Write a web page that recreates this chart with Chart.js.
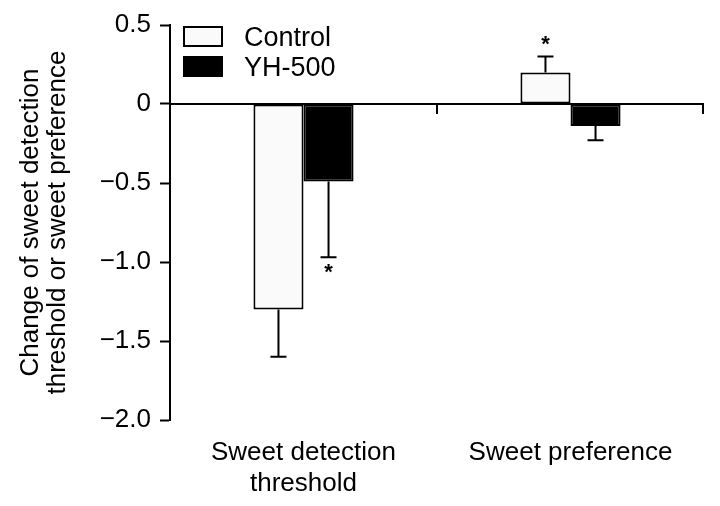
<!DOCTYPE html>
<html>
<head>
<meta charset="utf-8">
<script src="https://cdn.jsdelivr.net/npm/chart.js@4.4.1/dist/chart.umd.min.js"></script>
<style>
  html, body { margin: 0; padding: 0; background: #fff; }
  #wrap { width: 720px; height: 506px; }
</style>
</head>
<body>
<div id="wrap"><canvas id="chart" width="720" height="506"></canvas></div>
<script>
// data
const categories = [['Sweet detection', 'threshold'], 'Sweet preference'];
const controlValues = [-1.30, 0.20];
const controlErrors = [0.30, 0.10];
const yhValues = [-0.49, -0.14];
const yhErrors = [0.48, 0.09];
const controlSig = [false, true];
const yhSig = [true, false];
const yTicks = [0.5, 0, -0.5, -1.0, -1.5, -2.0];

const FONT = "'Liberation Sans', Arial, sans-serif";

function fmtTick(v) {
  if (v === 0) return '0';
  return (v < 0 ? '\u2212' : '') + Math.abs(v).toFixed(1);
}

/* zero line with category ticks */
const zeroLine = {
  id: 'zeroLine',
  afterDatasetsDraw(chart) {
    const { ctx, chartArea, scales: { x, y } } = chart;
    const y0 = y.getPixelForValue(0);
    ctx.save();
    ctx.strokeStyle = '#000';
    ctx.lineWidth = 2;
    ctx.beginPath();
    ctx.moveTo(chartArea.left, y0);
    ctx.lineTo(chartArea.right, y0);
    const mid = (x.getPixelForValue(0) + x.getPixelForValue(1)) / 2;
    [mid, chartArea.right - 1].forEach(px => {
      ctx.moveTo(px, y0);
      ctx.lineTo(px, y0 + 10);
    });
    ctx.stroke();
    ctx.restore();
  }
};

/* one-sided error bars + significance stars */
const errorBars = {
  id: 'errorBars',
  afterDatasetsDraw(chart) {
    const { ctx, scales: { y } } = chart;
    const errs = [controlErrors, yhErrors];
    const sigs = [controlSig, yhSig];
    ctx.save();
    ctx.strokeStyle = '#000';
    ctx.fillStyle = '#000';
    ctx.lineWidth = 2;
    chart.data.datasets.forEach((ds, di) => {
      const meta = chart.getDatasetMeta(di);
      meta.data.forEach((bar, i) => {
        const v = ds.data[i];
        const dir = v < 0 ? -1 : 1;
        const end = v + dir * errs[di][i];
        const yv = y.getPixelForValue(v);
        const ye = y.getPixelForValue(end);
        ctx.beginPath();
        ctx.moveTo(bar.x, yv);
        ctx.lineTo(bar.x, ye);
        ctx.moveTo(bar.x - 8, ye);
        ctx.lineTo(bar.x + 8, ye);
        ctx.stroke();
        if (sigs[di][i]) {
          ctx.font = 'bold 22px ' + FONT;
          ctx.textAlign = 'center';
          ctx.textBaseline = 'middle';
          const sy = dir > 0 ? ye - 12 : ye + 16;
          ctx.fillText('*', bar.x, sy);
        }
      });
    });
    ctx.restore();
  }
};

/* legend at top-left inside the plot */
const boxLegend = {
  id: 'boxLegend',
  afterDraw(chart) {
    const { ctx, chartArea } = chart;
    ctx.save();
    ctx.font = '27px ' + FONT;
    ctx.textBaseline = 'middle';
    ctx.textAlign = 'left';
    chart.data.datasets.forEach((ds, i) => {
      const bx = chartArea.left + 14;
      const by = chartArea.top + 2 + i * 30;
      ctx.fillStyle = ds.backgroundColor;
      ctx.fillRect(bx, by, 38, 19);
      ctx.strokeStyle = '#000';
      ctx.lineWidth = 2;
      ctx.strokeRect(bx, by, 38, 19);
      ctx.fillStyle = '#000';
      ctx.fillText(ds.label, bx + 60, by + 12);
    });
    ctx.restore();
  }
};

new Chart(document.getElementById('chart'), {
  type: 'bar',
  data: {
    labels: categories,
    datasets: [
      {
        label: 'Control',
        data: controlValues,
        backgroundColor: '#fafafa',
        borderColor: '#000',
        borderWidth: 2,
        borderSkipped: false
      },
      {
        label: 'YH-500',
        data: yhValues,
        backgroundColor: '#000',
        borderColor: '#000',
        borderWidth: 2,
        borderSkipped: false
      }
    ]
  },
  options: {
    responsive: false,
    animation: false,
    devicePixelRatio: 1,
    layout: { padding: { left: 0, right: 16, top: 25, bottom: 0 } },
    datasets: { bar: { categoryPercentage: 0.375, barPercentage: 1.0 } },
    plugins: { legend: { display: false }, tooltip: { enabled: false } },
    scales: {
      x: {
        grid: { display: false, drawTicks: false },
        border: { display: false },
        ticks: {
          color: '#000',
          font: { family: FONT, size: 26, lineHeight: 1.2 },
          padding: 17,
          maxRotation: 0
        },
        afterFit(scale) { scale.height = 86; }
      },
      y: {
        min: -2.0,
        max: 0.5,
        afterBuildTicks(scale) { scale.ticks = yTicks.map(v => ({ value: v })); },
        grid: {
          drawOnChartArea: false,
          drawTicks: true,
          tickLength: 10,
          tickColor: '#000',
          tickWidth: 2
        },
        border: { display: true, color: '#000', width: 2 },
        ticks: {
          color: '#000',
          font: { family: FONT, size: 26 },
          padding: 9,
          callback: v => fmtTick(v)
        },
        title: {
          display: true,
          text: ['Change of sweet detection', 'threshold or sweet preference'],
          color: '#000',
          font: { family: FONT, size: 26, lineHeight: 1.04 },
          padding: { top: 17, bottom: 0 }
        },
        afterFit(scale) { scale.width = 170; }
      }
    }
  },
  plugins: [zeroLine, errorBars, boxLegend]
});
</script>
</body>
</html>
